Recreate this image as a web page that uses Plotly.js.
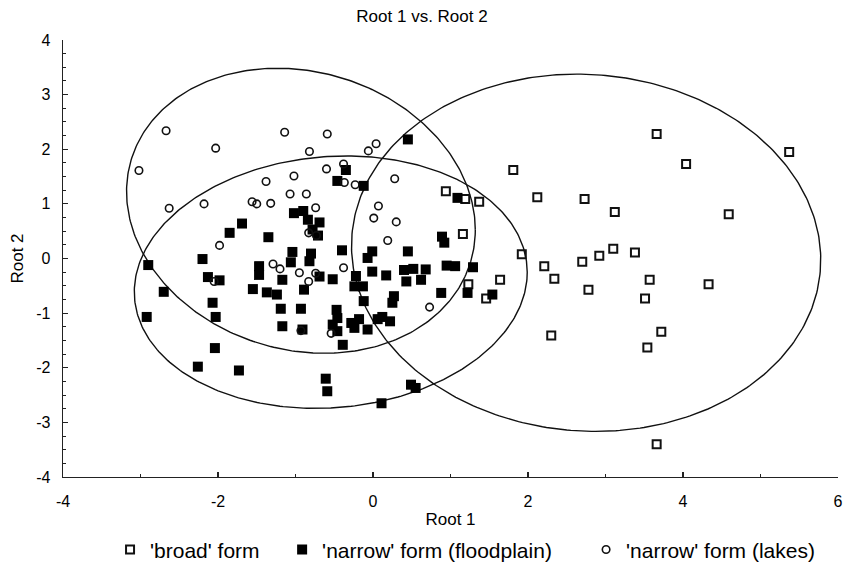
<!DOCTYPE html>
<html>
<head>
<meta charset="utf-8">
<script src="https://cdn.plot.ly/plotly-3.0.1.min.js"></script>
<style>html,body{margin:0;padding:0;background:#fff;}#chart{width:844px;height:571px;}</style>
</head>
<body>
<div id="chart"></div>
<script>
// ---- data ----
const seriesNames = ["'broad' form", "'narrow' form (floodplain)", "'narrow' form (lakes)"];

const broadX = [0.94, 1.19, 1.37, 1.16, 1.81, 2.12, 2.73, 3.12, 3.66, 4.04, 5.37, 4.59, 1.92, 2.21, 2.34, 2.70, 2.92, 3.10, 3.38, 3.57, 4.33, 2.78, 1.64, 1.23, 1.46, 3.51, 3.72, 3.54, 2.30, 3.66];
const broadY = [1.23, 1.09, 1.04, 0.45, 1.62, 1.12, 1.09, 0.85, 2.28, 1.73, 1.95, 0.81, 0.08, -0.14, -0.37, -0.06, 0.05, 0.18, 0.11, -0.39, -0.47, -0.57, -0.39, -0.47, -0.73, -0.73, -1.34, -1.63, -1.41, -3.40];

const floodX = [-1.02, -1.69, -1.85, -1.35, -1.04, -2.20, -1.47, -1.47, -2.90, -1.06, -2.13, -1.98, 0.45, -0.35, -0.46, -0.12, -0.90, -0.84, -0.69, -0.78, -0.71, -0.80, -0.82, -0.40, -0.01, -0.07, 0.45, 0.89, 0.92, 1.09, 0.95, 1.06, 1.29, 0.40, 0.52, 0.68, -0.01, 0.17, -0.22, -0.52, -1.17, -0.69, -0.89, -0.24, -0.13, 0.43, 0.62, 1.22, 0.88, 0.27, 0.25, -0.12, -0.93, -1.19, -0.47, -0.46, -0.52, -0.46, -0.39, -0.28, -0.18, -0.24, -0.07, 0.06, 0.12, 0.22, -1.17, -0.91, -0.61, -0.59, 0.49, 0.55, 0.11, -1.55, -1.37, -1.24, -2.70, -2.07, -2.03, -2.92, -2.04, -2.26, -1.73, 1.54];
const floodY = [0.83, 0.64, 0.47, 0.39, 0.12, -0.01, -0.14, -0.30, -0.12, -0.07, -0.34, -0.40, 2.18, 1.62, 1.42, 1.33, 0.87, 0.71, 0.66, 0.53, 0.42, 0.09, -0.05, 0.15, 0.13, 0.01, 0.13, 0.40, 0.29, 1.11, -0.13, -0.14, -0.16, -0.21, -0.19, -0.20, -0.24, -0.31, -0.32, -0.38, -0.39, -0.33, -0.57, -0.51, -0.51, -0.42, -0.39, -0.63, -0.63, -0.69, -0.81, -0.78, -0.92, -0.92, -0.94, -1.09, -1.21, -1.33, -1.58, -1.18, -1.11, -1.27, -1.30, -1.11, -1.07, -1.15, -1.24, -1.30, -2.20, -2.43, -2.31, -2.37, -2.65, -0.56, -0.62, -0.66, -0.61, -0.81, -1.07, -1.07, -1.64, -1.98, -2.05, -0.66];

const lakesX = [-2.67, -1.14, -2.03, -3.02, -1.38, -1.02, -1.07, -2.63, -2.18, -1.56, -1.50, -1.32, -1.98, -1.29, -1.20, -0.95, -0.59, -0.82, 0.04, -0.06, -0.38, -0.60, -0.37, -0.23, 0.28, -0.86, -0.74, 0.07, 0.01, 0.30, -0.83, -0.73, 0.19, -0.38, -0.74, -0.83, 0.73, -0.93, -0.54, -2.05];
const lakesY = [2.34, 2.31, 2.02, 1.61, 1.41, 1.51, 1.18, 0.92, 1.00, 1.04, 1.00, 1.01, 0.24, -0.10, -0.19, -0.26, 2.28, 1.96, 2.10, 1.97, 1.73, 1.64, 1.39, 1.35, 1.46, 1.18, 0.93, 0.96, 0.74, 0.67, 0.47, 0.42, 0.33, -0.17, -0.27, -0.42, -0.89, -1.32, -1.37, -0.42];

// confidence ellipses: centre, half-widths and shear terms (data units)
const ellipseCx = [2.75, -0.545, -0.93];
const ellipseCy = [0.105, -0.433, 0.874];
const ellipseAx = [3.025, 2.535, 2.25];
const ellipseAy = [3.27, 2.303, 2.586];
const ellipseDx = [-0.12, 0, 0];
const ellipseDy = [0, 0.18, -0.35];

const xTickVals = [-4, -2, 0, 2, 4, 6];
const xTickText = ['-4', '-2', '0', '2', '4', '6'];
const yTickVals = [-4, -3, -2, -1, 0, 1, 2, 3, 4];
const yTickText = ['-4', '-3', '-2', '-1', '0', '1', '2', '3', '4'];

// ---- build ----
const FONT = 'Liberation Sans, Arial, sans-serif';
const NB = '\u00a0';
const legendPad = [NB.repeat(3), NB.repeat(5), ''];
const traces = [];
for (let k = 0; k < ellipseCx.length; k++) {
  const ex = [], ey = [];
  for (let i = 0; i <= 360; i++) {
    const t = i * Math.PI / 180;
    ex.push(ellipseCx[k] + ellipseAx[k] * Math.cos(t) + ellipseDx[k] * Math.sin(t));
    ey.push(ellipseCy[k] + ellipseAy[k] * Math.sin(t) + ellipseDy[k] * Math.cos(t));
  }
  traces.push({x: ex, y: ey, mode: 'lines', line: {color: '#111', width: 1.4}, showlegend: false, hoverinfo: 'skip'});
}
traces.push({x: broadX, y: broadY, mode: 'markers', name: seriesNames[0] + legendPad[0],
  marker: {symbol: 'square-open', size: 8, color: '#111', line: {width: 2, color: '#111'}}});
traces.push({x: floodX, y: floodY, mode: 'markers', name: seriesNames[1] + legendPad[1],
  marker: {symbol: 'square', size: 10, color: '#000', line: {width: 0}}});
traces.push({x: lakesX, y: lakesY, mode: 'markers', name: seriesNames[2] + legendPad[2],
  marker: {symbol: 'circle-open', size: 7.5, color: '#111', line: {width: 1.6, color: '#111'}}});

const layout = {
  width: 844, height: 571,
  margin: {l: 63, r: 6, t: 40, b: 94},
  paper_bgcolor: '#fff', plot_bgcolor: '#fff',
  font: {family: FONT, color: '#000'},
  title: {text: 'Root 1 vs. Root 2', font: {size: 17, family: FONT}, x: 0.5, xref: 'container', y: 0.972, yref: 'container', yanchor: 'middle'},
  xaxis: {
    range: [-4, 6], tickvals: xTickVals, ticktext: xTickText, showgrid: false, zeroline: false,
    showline: true, linecolor: '#222', linewidth: 1.3, mirror: false,
    ticks: 'inside', ticklen: 5, tickwidth: 1.2, tickcolor: '#222',
    minor: {dtick: 1, ticks: 'inside', ticklen: 3, tickwidth: 1, tickcolor: '#222', showgrid: false},
    tickfont: {size: 16, family: FONT}, ticklabelstandoff: 9,
    title: {text: 'Root 1', font: {size: 17, family: FONT}, standoff: 22}
  },
  yaxis: {
    range: [-4, 4], tickvals: yTickVals, ticktext: yTickText, showgrid: false, zeroline: false,
    showline: true, linecolor: '#222', linewidth: 1.3, mirror: false,
    ticks: 'inside', ticklen: 5, tickwidth: 1.2, tickcolor: '#222',
    minor: {dtick: 0.25, ticks: 'inside', ticklen: 3, tickwidth: 1, tickcolor: '#222', showgrid: false},
    tickfont: {size: 16, family: FONT}, ticklabelstandoff: 8,
    title: {text: 'Root 2', font: {size: 17, family: FONT}, standoff: 8}
  },
  showlegend: true,
  legend: {orientation: 'h', xref: 'container', yref: 'container', x: 0.551, xanchor: 'center', y: 0.037, yanchor: 'middle',
    font: {size: 21, family: FONT}, bgcolor: 'rgba(0,0,0,0)', traceorder: 'normal', itemclick: false}
};

Plotly.newPlot('chart', traces, layout, {staticPlot: true, displayModeBar: false});
</script>
</body>
</html>
